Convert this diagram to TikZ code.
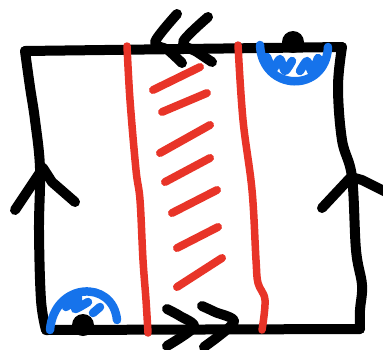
\documentclass[tikz,border=0pt]{standalone}
\definecolor{penred}{RGB}{232,52,40}
\definecolor{penblue}{RGB}{22,115,235}
\begin{document}
\begin{tikzpicture}[x=1pt,y=-1pt,
  ink/.style={line width=10pt,line cap=round,line join=round,black},
  redink/.style={line width=7.5pt,line cap=round,line join=round,penred},
  hatchink/.style={line width=8pt,line cap=round,line join=round,penred},
  blueink/.style={line width=8.5pt,line cap=round,line join=round,penblue},
  pendot/.style={fill=black}]
\useasboundingbox (0,0) rectangle (383,349);
% corners
\coordinate (TL) at (25,51);
\coordinate (TR) at (342,47);
\coordinate (BR) at (360,329);
\coordinate (BL) at (46,330);
% outline
\draw[ink] (TL) -- (TR);
\draw[ink] (BL) -- (BR);
\draw[ink] plot[smooth,tension=0.6] coordinates {(25,51) (30,87) (35,120) (40,168) (39,230) (41,300) (46,330)};
\draw[ink] plot[smooth,tension=0.6] coordinates {(342,47) (338,87) (342,140) (352,177) (356,250) (362,285) (360,310) (360,329)};
% top double arrow (pointing left)
\draw[ink] plot[smooth,tension=0.5] coordinates {(177,14) (155,42) (168,50) (182,63)};
\draw[ink] plot[smooth,tension=0.5] coordinates {(208,17) (183,42) (197,52) (212,62)};
% bottom double arrow (pointing right)
\draw[ink] plot[smooth,tension=0.5] coordinates {(167,309) (180,316) (194,327) (167,346)};
\draw[ink] plot[smooth,tension=0.5] coordinates {(202,306) (215,312) (234,322) (204,347)};
% left arrow (up)
\draw[ink] (15,210) -- (43,168) -- (52,182) -- (75,202);
% right arrow (up)
\draw[ink] (322,208) -- (351,177) -- (362,180) -- (390,194);
% red lines
\draw[redink] plot[smooth,tension=0.6] coordinates {(127,46) (130,100) (136,170) (140,200) (143,260) (146,300) (148,333)};
\draw[redink] plot[smooth,tension=0.6] coordinates {(238,45) (243,120) (252,190) (256,260) (258,283) (265,300) (262,330)};
% red hatching
\draw[hatchink] (153,90) -- (200,67);
\draw[hatchink] (162,112) -- (207,93);
\draw[hatchink] (160,153) -- (210,125);
\draw[hatchink] (165,182) -- (210,158);
\draw[hatchink] (172,213) -- (217,190);
\draw[hatchink] (177,248) -- (218,227);
\draw[hatchink] (177,287) -- (222,258);
% blue half discs
\draw[blueink] (260,45) .. controls (262,92) and (326,94) .. (328,47);
\draw[blueink] plot[smooth,tension=0.4] coordinates {(267,57) (273,69) (280,59) (285,71) (292,61)};
\draw[blueink] plot[smooth,tension=0.4] coordinates {(300,71) (307,61) (312,72) (318,58)};
\draw[blueink] (50,330) .. controls (54,282) and (113,279) .. (117,320);
\draw[blueink] plot[smooth,tension=0.4] coordinates {(66,307) (78,298) (75,309) (88,302)};
\draw[blueink] (93,313) -- (100,307);
% black dots
\fill[pendot] (293,42) circle (11);
\fill[pendot] (83,325) circle (11);
\end{tikzpicture}
\end{document}
